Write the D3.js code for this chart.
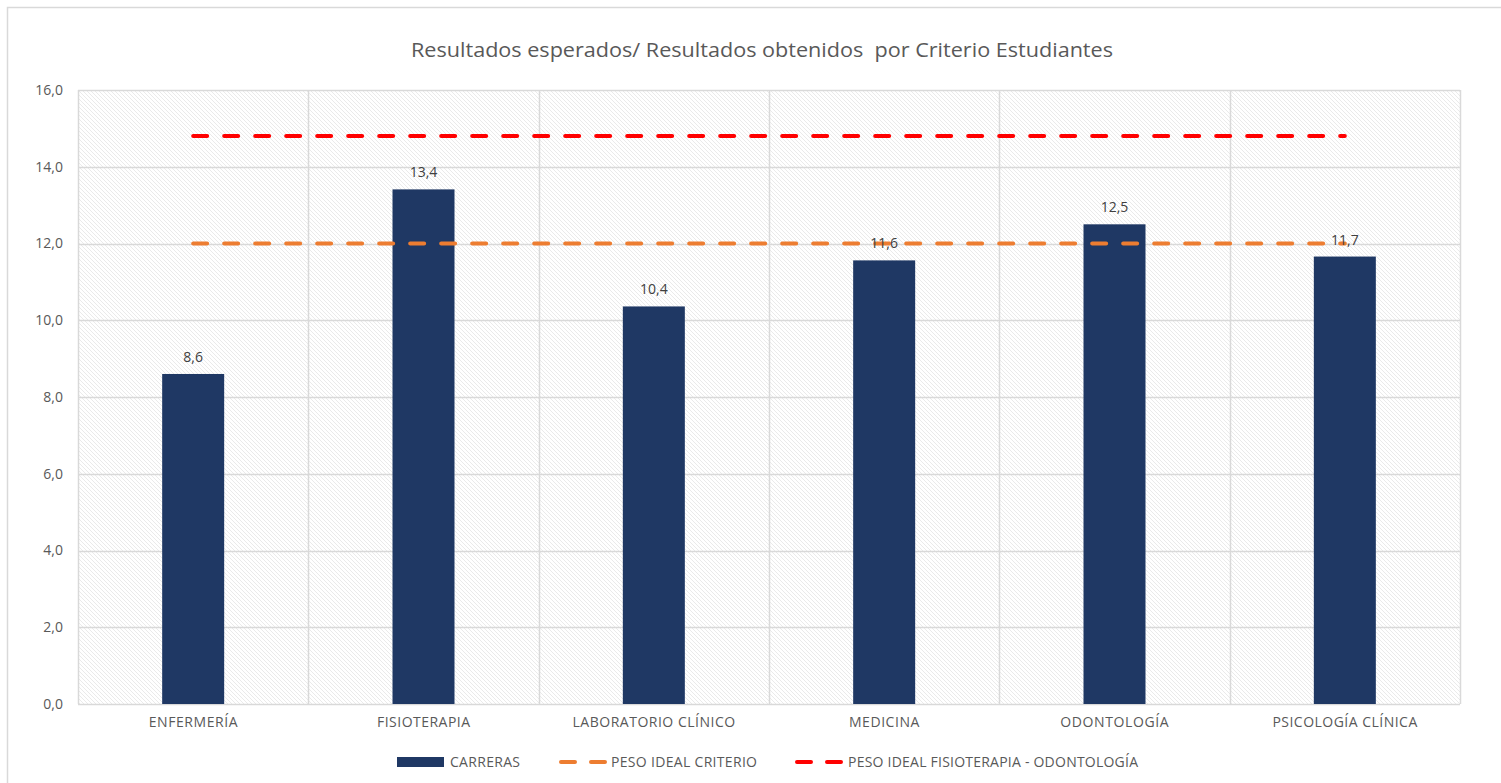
<!DOCTYPE html>
<html><head><meta charset="utf-8">
<script src="https://cdn.jsdelivr.net/npm/d3@7"></script>
<style>body{margin:0;background:#fff}text{font-family:"Open Sans",Lato,sans-serif}</style>
</head><body><svg id="c" width="1501" height="783"></svg>
<script>
const categories=["ENFERMERÍA","FISIOTERAPIA","LABORATORIO CLÍNICO","MEDICINA","ODONTOLOGÍA","PSICOLOGÍA CLÍNICA"];
const carreras=[8.6,13.41,10.36,11.56,12.5,11.66];
const pesoIdealCriterio=[12,12,12,12,12,12];
const pesoIdealFisioOdonto=[14.8,14.8,14.8,14.8,14.8,14.8];
const yTicks=[0,2,4,6,8,10,12,14,16];
const title="Resultados esperados/ Resultados obtenidos  por Criterio Estudiantes";
const legendLabels=["CARRERAS","PESO IDEAL CRITERIO","PESO IDEAL FISIOTERAPIA - ODONTOLOGÍA"];

const svg=d3.select("#c");
const L=78,R=1460,T=90,B=704;
const x=d3.scaleBand().domain(categories).range([L,R]).paddingInner(0).paddingOuter(0);
const y=d3.scaleLinear().domain([0,16]).range([B,T]);
const fmt=v=>d3.format(".1f")(v).replace(".",",");

// outer border (top & left visible)
svg.append("path").attr("d","M7.5,783 V7.5 H1501").attr("fill","none").attr("stroke","#d9d9d9").attr("stroke-width",1.5);

// hatch pattern
const defs=svg.append("defs");
const pat=defs.append("pattern").attr("id","hatch").attr("patternUnits","userSpaceOnUse").attr("width",4).attr("height",4);
pat.append("rect").attr("width",4).attr("height",4).attr("fill","#fff");
pat.append("path").attr("d","M-1,-1 L5,5 M-1,3 L1,5 M3,-1 L5,1").attr("stroke","#e8e8e8").attr("stroke-width",0.9);
svg.append("rect").attr("x",L).attr("y",T).attr("width",R-L).attr("height",B-T).attr("fill","url(#hatch)");

// horizontal grid
svg.append("g").selectAll("line").data(yTicks).join("line")
 .attr("x1",L).attr("x2",R).attr("y1",d=>Math.round(y(d))+0.5).attr("y2",d=>Math.round(y(d))+0.5)
 .attr("stroke","#d9d9d9").attr("stroke-width",1.5);
// vertical grid
const vb=categories.map(c=>x(c)).concat([R]);
svg.append("g").selectAll("line").data(vb).join("line")
 .attr("x1",d=>Math.round(d)+0.5).attr("x2",d=>Math.round(d)+0.5).attr("y1",T).attr("y2",B)
 .attr("stroke","#d9d9d9").attr("stroke-width",1.5);

// y axis
const yAxis=d3.axisLeft(y).tickValues(yTicks).tickFormat(fmt).tickSize(0).tickPadding(15);
const ya=svg.append("g").attr("transform",`translate(${L},0)`).call(yAxis);
ya.select(".domain").remove();
ya.selectAll("text").attr("fill","#595959").style("font-size","14px");

// x axis
const xAxis=d3.axisBottom(x).tickSize(0).tickPadding(13);
const xa=svg.append("g").attr("transform",`translate(0,${B})`).call(xAxis);
xa.select(".domain").remove();
xa.selectAll("text").attr("fill","#595959").style("font-size","14px").attr("textLength",function(){return this.getComputedTextLength()*1.06;});

// bars
const bw=62;
svg.append("g").selectAll("rect").data(carreras).join("rect")
 .attr("x",(d,i)=>x(categories[i])+x.bandwidth()/2-bw/2).attr("width",bw)
 .attr("y",d=>y(d)).attr("height",d=>B-y(d)).attr("fill","#1f3864");

// lines
const line=d3.line().x((d,i)=>x(categories[i])+x.bandwidth()/2).y(d=>y(d));
svg.append("path").datum(pesoIdealCriterio).attr("d",line).attr("fill","none")
 .attr("stroke","#ed7d31").attr("stroke-width",4).attr("stroke-linecap","round").attr("stroke-dasharray","14,17");
svg.append("path").datum(pesoIdealFisioOdonto).attr("d",line).attr("fill","none")
 .attr("stroke","#ff0000").attr("stroke-width",4).attr("stroke-linecap","round").attr("stroke-dasharray","14,17");

// value labels
svg.append("g").selectAll("text").data(carreras).join("text")
 .attr("x",(d,i)=>x(categories[i])+x.bandwidth()/2).attr("y",d=>y(d)-12)
 .attr("text-anchor","middle").attr("fill","#404040").style("font-size","14px").text(fmt);

// title
svg.append("text").attr("x",762).attr("y",57).attr("text-anchor","middle").style("white-space","pre")
 .attr("fill","#595959").style("font-size","20px").attr("textLength",702).attr("lengthAdjust","spacingAndGlyphs").text(title);

// legend
const lg=svg.append("g");
const ly=762;
const lfs="14px";
lg.append("rect").attr("x",397).attr("y",ly-5).attr("width",47).attr("height",10).attr("fill","#1f3864");
lg.append("text").attr("x",450).attr("y",ly+5).attr("fill","#595959").style("font-size",lfs).attr("textLength",70).text(legendLabels[0]);
lg.append("line").attr("x1",561).attr("x2",605).attr("y1",ly).attr("y2",ly).attr("stroke","#ed7d31").attr("stroke-width",4).attr("stroke-linecap","round").attr("stroke-dasharray","14,16");
lg.append("text").attr("x",611).attr("y",ly+5).attr("fill","#595959").style("font-size",lfs).attr("textLength",146).text(legendLabels[1]);
lg.append("line").attr("x1",797).attr("x2",841).attr("y1",ly).attr("y2",ly).attr("stroke","#ff0000").attr("stroke-width",4).attr("stroke-linecap","round").attr("stroke-dasharray","14,16");
lg.append("text").attr("x",848).attr("y",ly+5).attr("fill","#595959").style("font-size",lfs).attr("textLength",290).text(legendLabels[2]);
</script></body></html>
